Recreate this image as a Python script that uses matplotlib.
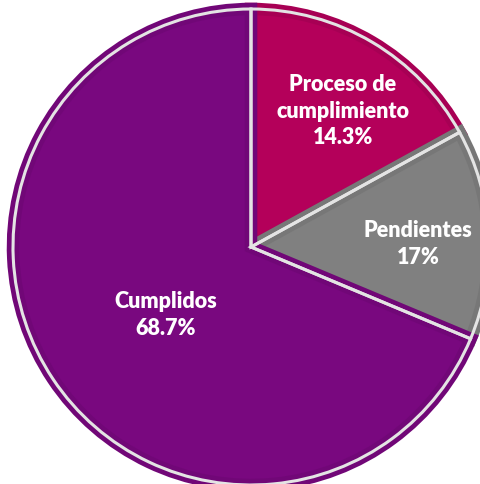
import matplotlib
matplotlib.use('Agg')
import matplotlib.pyplot as plt

# slice sizes as drawn in the reference, and the labels it prints on them
categories = ["Proceso de\ncumplimiento", "Pendientes", "Cumplidos"]
slice_sizes = [17.0, 14.3, 68.7]
pct_labels = ["14.3%", "17%", "68.7%"]

colors = ["#B4005A", "#808080", "#79087F"]
dark_colors = ["#A70054", "#777777", "#710777"]

W, H = 480, 485
cx, cy = 251, 248
R = 238

fig = plt.figure(figsize=(W / 100, H / 100), dpi=100)
ax = fig.add_axes([0, 0, 1, 1])

wedges, _ = ax.pie(slice_sizes, colors=colors, startangle=90, counterclock=False,
                   radius=R, center=(0, 0), frame=True)
# subtle darker inner rim on every slice
for w, dc in zip(wedges, dark_colors):
    w.set_edgecolor(dc)
    w.set_linewidth(9)
    w.set_clip_path(w)

# light separators and outer border
ax.pie(slice_sizes, colors=['none'] * 3, startangle=90, counterclock=False,
       radius=R, center=(0, 0), frame=True,
       wedgeprops=dict(edgecolor='#e4e4e4', linewidth=2.2))
ax.set_xlim(-cx, W - cx)
ax.set_ylim(-(H - cy), cy)
ax.set_aspect('equal')
ax.axis('off')

label_pos = [(92, 137), (167, 4), (-85, -67)]
for name, pct, (x, y) in zip(categories, pct_labels, label_pos):
    ax.text(x, y, f"{name}\n{pct}", ha='center', va='center', color='white',
            fontsize=15.5, fontweight='heavy', family=['Lato', 'DejaVu Sans'],
            linespacing=1.3)

fig.savefig('out.png', dpi=100)
